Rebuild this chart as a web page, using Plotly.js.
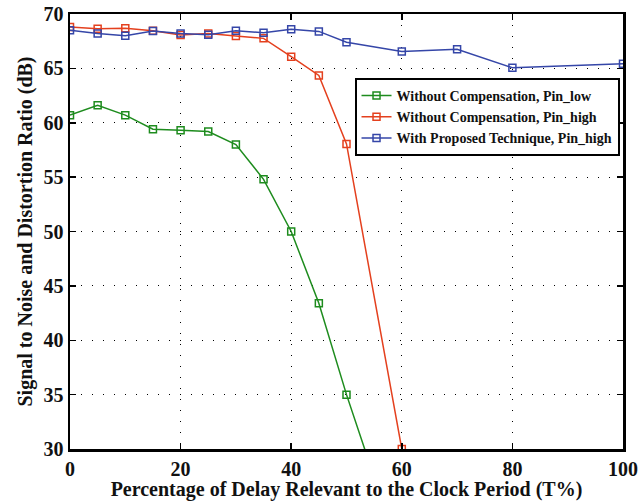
<!DOCTYPE html>
<html>
<head>
<meta charset="utf-8">
<script src="https://cdn.plot.ly/plotly-3.0.1.min.js"></script>
<style>html,body{margin:0;padding:0;background:#fff;}#chart{width:644px;height:501px;}</style>
</head>
<body>
<div id="chart"></div>
<script>
const xLow = [0, 5, 10, 15, 20, 25, 30, 35, 40, 45, 50, 55];
const yLow = [60.7, 61.6, 60.7, 59.4, 59.3, 59.2, 58.0, 54.8, 50.0, 43.4, 35.0, 27.4];
const xHigh = [0, 5, 10, 15, 20, 25, 30, 35, 40, 45, 50, 60];
const yHigh = [68.8, 68.65, 68.68, 68.46, 68.07, 68.2, 67.97, 67.76, 66.07, 64.35, 58.05, 30.0];
const xProp = [0, 5, 10, 15, 20, 25, 30, 35, 40, 45, 50, 60, 70, 80, 100];
const yProp = [68.5, 68.2, 68.0, 68.43, 68.2, 68.1, 68.46, 68.28, 68.6, 68.4, 67.4, 66.56, 66.75, 65.06, 65.43];
const names = ["Without Compensation, Pin_low", "Without Compensation, Pin_high", "With Proposed Technique, Pin_high"];
const xTicks = [0, 20, 40, 60, 80, 100];
const yTicks = [30, 35, 40, 45, 50, 55, 60, 65, 70];

const colors = ["#1e8c1e", "#e4401e", "#3546a8"];
const serif = "Liberation Serif, Times New Roman, serif";
function tr(x, y, name, c) {
  return {x: x, y: y, name: name, type: "scatter", mode: "lines+markers",
    line: {color: c, width: 1.5},
    marker: {symbol: "square-open", size: 7, color: c, line: {width: 1.5, color: c}},
    cliponaxis: true};
}
const data = [tr(xLow, yLow, names[0], colors[0]), tr(xHigh, yHigh, names[1], colors[1]), tr(xProp, yProp, names[2], colors[2])];
const axisCommon = {
  showline: true, linecolor: "#000", linewidth: 2.5, mirror: "ticks",
  ticks: "inside", ticklen: 6, tickwidth: 1.5, tickcolor: "#000",
  showgrid: true, gridcolor: "#000", gridwidth: 1.2, griddash: "1px,10px",
  zeroline: false, automargin: false,
  tickfont: {family: serif, size: 20, color: "#111", weight: 700}
};
const layout = {
  width: 644, height: 501,
  margin: {l: 70, r: 21, t: 14, b: 52},
  paper_bgcolor: "#fff", plot_bgcolor: "#fff",
  xaxis: Object.assign({}, axisCommon, {
    range: [0, 100], tickvals: xTicks, ticktext: xTicks.map(String),
    title: {text: "Percentage of Delay Relevant to the Clock Period (T%)", standoff: 4,
      font: {family: serif, size: 20, color: "#111", weight: 700}}
  }),
  yaxis: Object.assign({}, axisCommon, {
    range: [30, 70], tickvals: yTicks, ticktext: yTicks.map(String),
    title: {text: "Signal to Noise and Distortion Ratio (dB)", standoff: 6,
      font: {family: serif, size: 20, color: "#111", weight: 700}}
  }),
  showlegend: true,
  legend: {x: 0.5145, y: 0.853, xanchor: "left", yanchor: "top",
    bgcolor: "#fff", bordercolor: "#000", borderwidth: 2,
    font: {family: serif, size: 14, color: "#111", weight: 700},
    itemwidth: 30, tracegroupgap: 0}
};
Plotly.newPlot("chart", data, layout, {displayModeBar: false, staticPlot: true});
</script>
</body>
</html>
